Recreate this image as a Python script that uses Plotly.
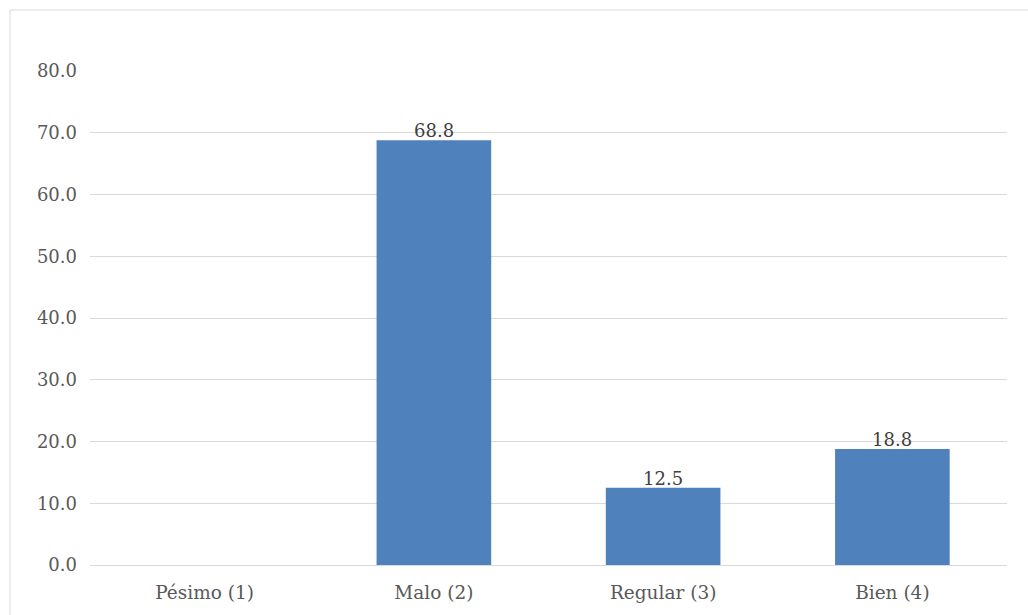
import plotly.graph_objects as go

categorias = ["Pésimo (1)", "Malo (2)", "Regular (3)", "Bien (4)"]
porcentajes = [0.0, 68.8, 12.5, 18.8]
ticks_y = [0, 10, 20, 30, 40, 50, 60, 70, 80]

fuente = "DejaVu Serif, Liberation Serif, serif"

fig = go.Figure(
    go.Bar(
        x=categorias,
        y=porcentajes,
        width=0.5,
        marker=dict(color="#4F81BD", line=dict(width=0)),
        cliponaxis=False,
    )
)

# value labels sitting just above each non-zero bar
for cat, val in zip(categorias, porcentajes):
    if val > 0:
        fig.add_annotation(
            x=cat,
            y=val,
            text=f"{val:.1f}",
            showarrow=False,
            yanchor="bottom",
            yshift=-3,
            font=dict(family=fuente, size=18, color="#404040"),
        )

W, H = 1028, 615
ml, mr, mt, mb = 90, 21, 71, 50
pw, ph = W - ml - mr, H - mt - mb

fig.update_layout(
    width=W,
    height=H,
    margin=dict(l=ml, r=mr, t=mt, b=mb),
    paper_bgcolor="white",
    plot_bgcolor="white",
    showlegend=False,
    bargap=0.5,
    font=dict(family=fuente, size=18, color="#595959"),
    xaxis=dict(
        showgrid=False,
        showline=False,
        ticks="",
        ticklabelstandoff=14,
        tickfont=dict(family=fuente, size=18.5, color="#595959"),
    ),
    yaxis=dict(
        range=[0, 80],
        tickvals=ticks_y,
        ticktext=[f"{v:.1f}" for v in ticks_y],
        showgrid=True,
        gridcolor="#D9D9D9",
        gridwidth=1,
        zeroline=True,
        zerolinecolor="#D9D9D9",
        zerolinewidth=1,
        ticks="",
        ticklabelstandoff=12,
        tickfont=dict(family=fuente, size=18, color="#595959"),
    ),
    shapes=[
        dict(
            type="rect",
            xref="paper",
            yref="paper",
            x0=(10 - ml) / pw,
            x1=(W + 5 - ml) / pw,
            y0=-(H + 5 - mt - ph) / ph,
            y1=1 + (mt - 10) / ph,
            line=dict(color="#D9D9D9", width=1),
            fillcolor="rgba(0,0,0,0)",
            layer="below",
        )
    ],
)

fig.write_html("out.html")
